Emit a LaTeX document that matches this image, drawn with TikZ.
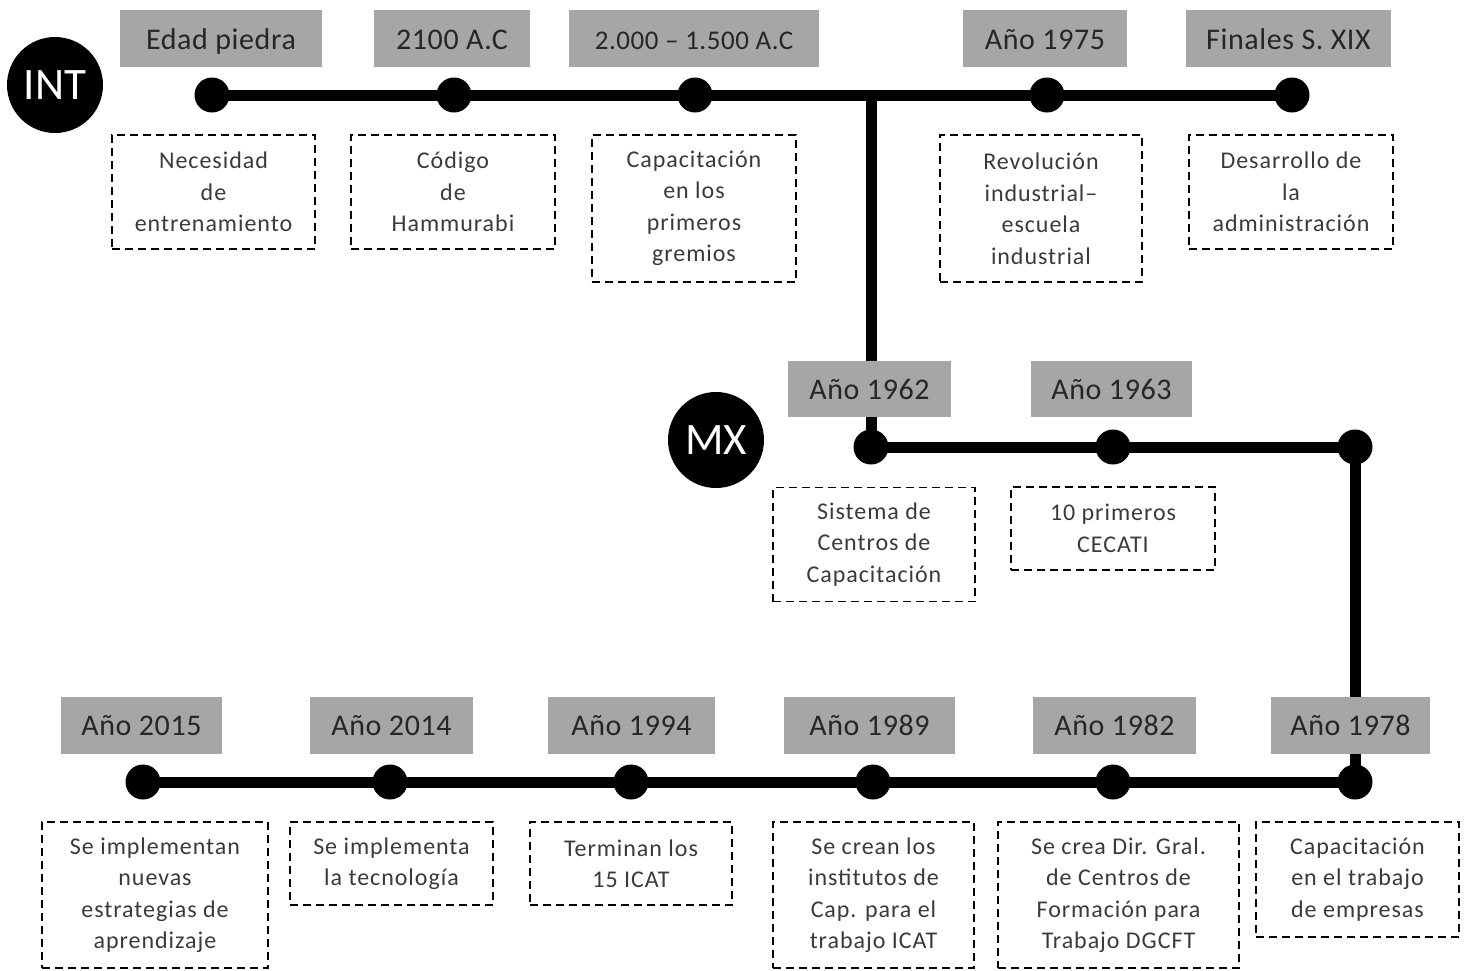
\documentclass[tikz,border=0pt]{standalone}
\usepackage{fontspec}
\setmainfont{Carlito}
\newfontfamily\boxfam{Carlito}[LetterSpace=4]
\newfontfamily\lblfam{Carlito}[LetterSpace=2]
\definecolor{lblgray}{HTML}{A6A6A6}
\definecolor{lbltxt}{HTML}{262626}
\definecolor{boxtxt}{HTML}{3A3A3A}
\newcommand\lblfont{\lblfam\fontsize{30}{36}\selectfont}
\newcommand\lblsmall{\lblfam\fontsize{27}{32}\selectfont}
\newcommand\boxfont{\boxfam\fontsize{24}{31.5}\selectfont}
\newcommand\bigfont{\fontsize{45}{50}\selectfont}
\tikzset{
  dotnode/.style={circle, fill=black, minimum size=35pt, inner sep=0pt},
  tline/.style={line width=11pt},
  lbl/.style={fill=lblgray, text=lbltxt, font=\lblfont, inner sep=0pt, minimum height=57pt,
     text height=27pt, text depth=6pt},
  dbox/.style={draw=black, dash pattern=on 8pt off 5pt, line width=1.8pt, text=boxtxt,
     align=center, font=\boxfont, inner sep=0pt},
  bigc/.style={circle, fill=black, minimum size=96pt, inner sep=0pt, text=white, font=\bigfont}
}
\begin{document}
\begin{tikzpicture}[x=1pt,y=-1pt]
\useasboundingbox (0,0) rectangle (1468,970);
% circles
\node[bigc] (INT) at (55,85) {INT};
\node[bigc] (MX) at (716,440) {MX};
% dots
\node[dotnode] (t1) at (212,95) {};
\node[dotnode] (t2) at (454,95) {};
\node[dotnode] (t3) at (695,95) {};
\node[dotnode] (t4) at (1047,95) {};
\node[dotnode] (t5) at (1292,95) {};
\coordinate (j) at (871,95);
\node[dotnode] (m1) at (871,447) {};
\node[dotnode] (m2) at (1113,447) {};
\node[dotnode] (m3) at (1355,447) {};
\node[dotnode] (b6) at (1355,782) {};
\node[dotnode] (b5) at (1113,782) {};
\node[dotnode] (b4) at (873,782) {};
\node[dotnode] (b3) at (631,782) {};
\node[dotnode] (b2) at (390,782) {};
\node[dotnode] (b1) at (143,782) {};
% lines
\draw[tline] (t1.center) -- (t5.center);
\draw[tline] (j) -- (m1.center);
\draw[tline] (m1.center) -- (m3.center) -- (b6.center) -- (b1.center);
% gray labels
\node[lbl, minimum width=202pt] (l1) at (221,38.5) {Edad piedra};
\node[lbl, minimum width=156pt] (l2) at (452,38.5) {2100 A.C};
\node[lbl, minimum width=250pt, font=\lblsmall] (l3) at (694,38.5) {2.000 – 1.500 A.C};
\node[lbl, minimum width=164pt] (l4) at (1045,38.5) {Año  1975};
\node[lbl, minimum width=205pt] (l5) at (1288.5,38.5) {Finales S. XIX};
\node[lbl, minimum width=163pt, minimum height=56pt] (l6) at (869.5,388.5) {Año 1962};
\node[lbl, minimum width=161pt, minimum height=56pt] (l7) at (1111.5,388.5) {Año 1963};
\node[lbl, minimum width=161pt] (l8) at (141.5,725) {Año 2015};
\node[lbl, minimum width=163pt] (l9) at (391.5,725) {Año 2014};
\node[lbl, minimum width=167pt] (l10) at (631.5,725) {Año 1994};
\node[lbl, minimum width=171pt] (l11) at (869.5,725) {Año 1989};
\node[lbl, minimum width=163pt] (l12) at (1114.5,725) {Año 1982};
\node[lbl, minimum width=159pt] (l13) at (1350.5,725) {Año 1978};
% dashed boxes
\node[dbox, minimum width=203pt, minimum height=114pt] (d1) at (213.5,192) {Necesidad\\de\\entrenamiento};
\node[dbox, minimum width=204pt, minimum height=114pt] (d2) at (453,192) {Código\\de\\Hammurabi};
\node[dbox, minimum width=204pt, minimum height=147pt] (d3) at (694,208.5) {Capacitación\\en los\\primeros\\gremios};
\node[dbox, minimum width=202pt, minimum height=147pt] (d4) at (1041,208.5) {Revolución\\industrial–\\escuela\\industrial};
\node[dbox, minimum width=204pt, minimum height=114pt] (d5) at (1291,192) {Desarrollo de\\la\\administración};
\node[dbox, minimum width=202pt, minimum height=114pt] (d6) at (874,544.5) {Sistema de\\Centros de\\Capacitación};
\node[dbox, minimum width=204pt, minimum height=83pt] (d7) at (1113,528.5) {10 primeros\\CECATI};
\node[dbox, minimum width=226pt, minimum height=146pt] (d8) at (155,895) {Se implementan\\nuevas\\estrategias de\\aprendizaje};
\node[dbox, minimum width=203pt, minimum height=83pt] (d9) at (391.5,863.5) {Se implementa\\la tecnología};
\node[dbox, minimum width=202pt, minimum height=83pt] (d10) at (631,863.5) {Terminan los\\15 ICAT};
\node[dbox, minimum width=201pt, minimum height=146pt] (d11) at (873.5,895) {Se crean los\\institutos de\\Cap. para el\\trabajo ICAT};
\node[dbox, minimum width=241pt, minimum height=146pt] (d12) at (1118.5,895) {Se crea Dir. Gral.\\de Centros de\\Formación para\\Trabajo DGCFT};
\node[dbox, minimum width=203pt, minimum height=115pt] (d13) at (1357.5,879.5) {Capacitación\\en el trabajo\\de empresas};
\end{tikzpicture}
\end{document}
